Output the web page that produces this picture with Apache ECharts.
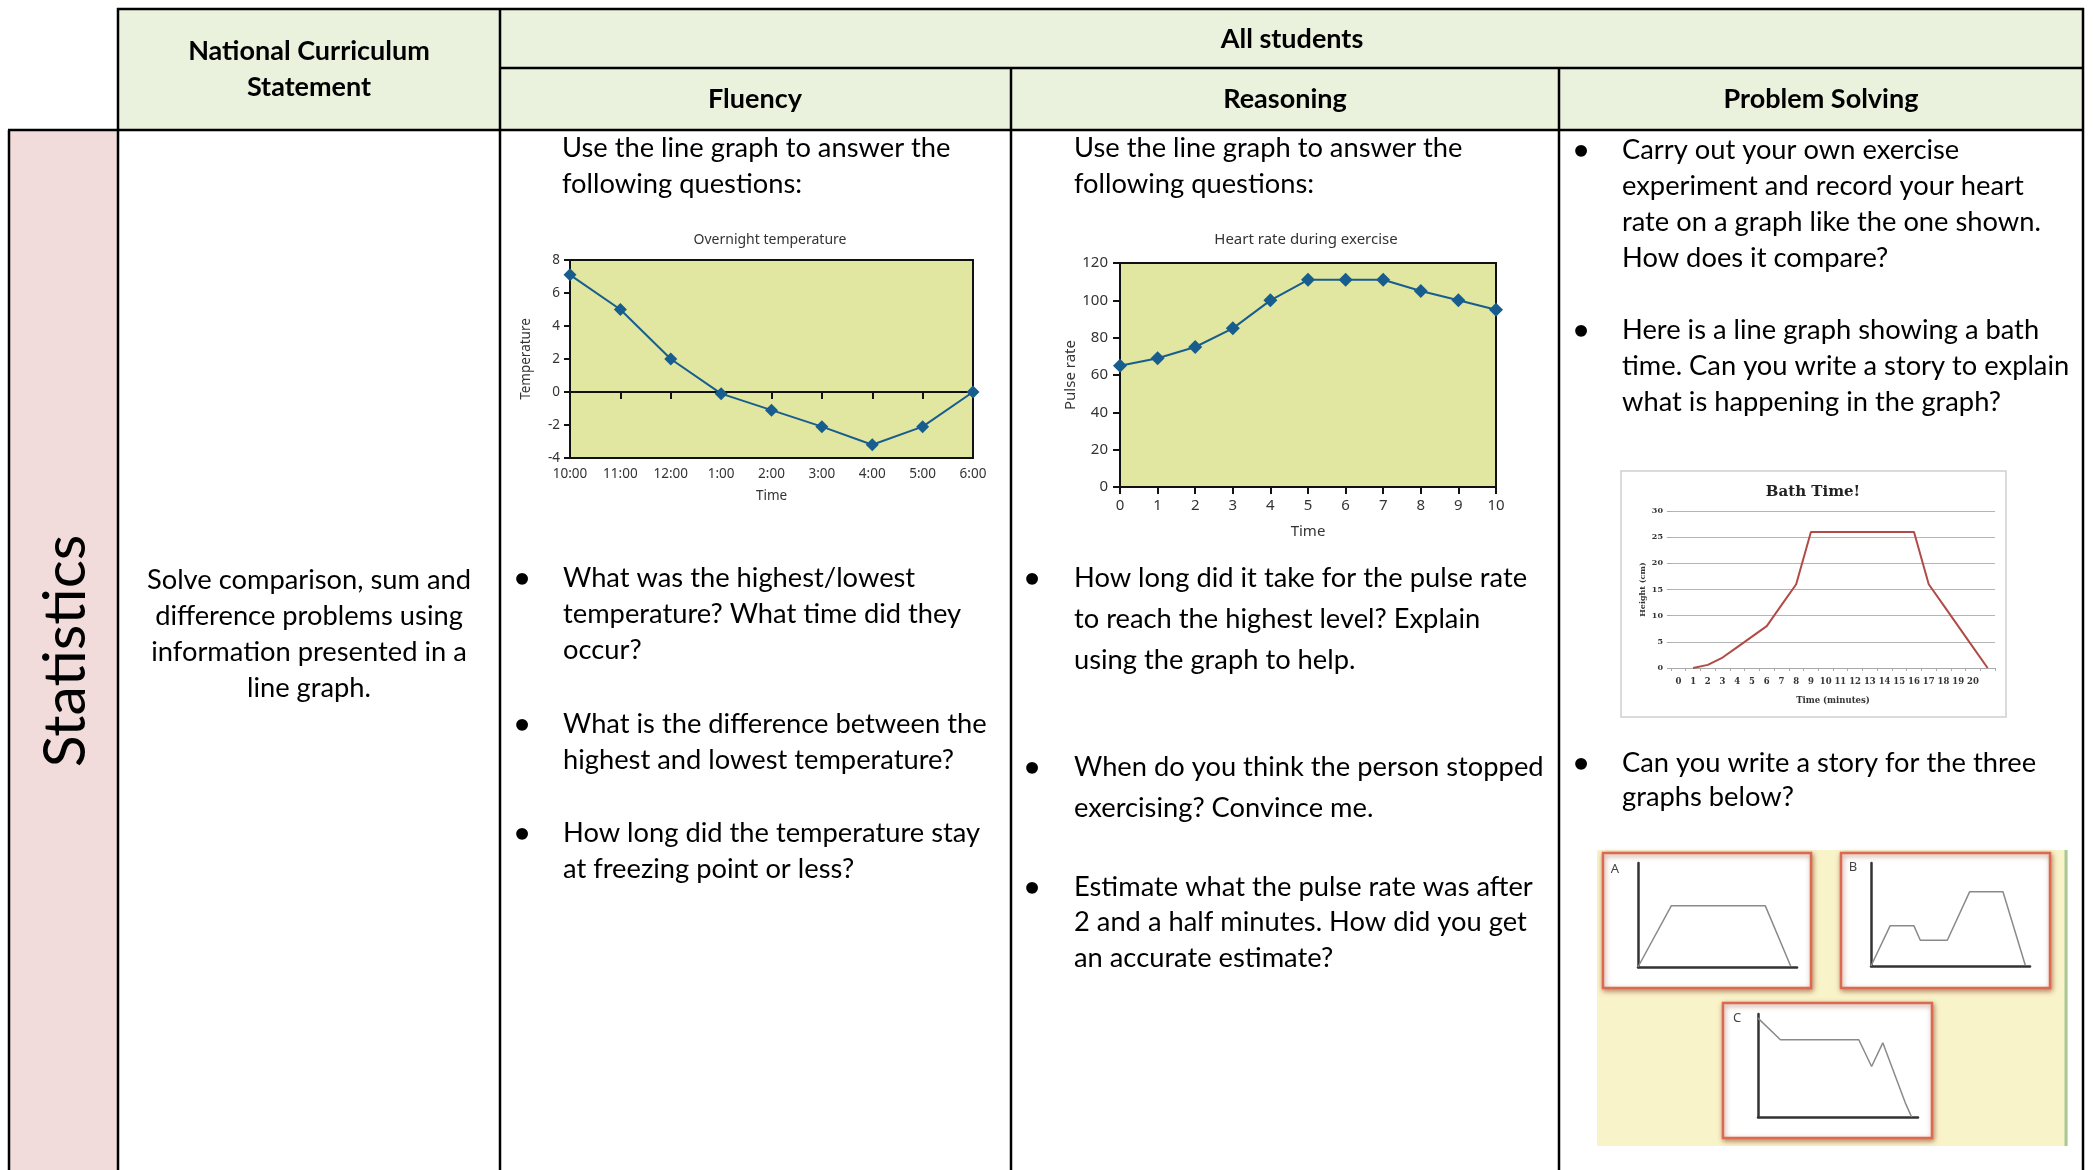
<!DOCTYPE html>
<html><head><meta charset="utf-8">
<script src="https://cdn.jsdelivr.net/npm/echarts@6/dist/echarts.min.js"></script>
<style>html,body{margin:0;padding:0;background:#fff}#c{width:2094px;height:1170px}</style>
</head><body><div id="c"></div>
<script>
// ---- data ----
const tempTimes = ['10:00','11:00','12:00','1:00','2:00','3:00','4:00','5:00','6:00'];
const tempValues = [7.1, 5, 2, -0.1, -1.1, -2.1, -3.2, -2.1, 0];
const heartMinutes = ['0','1','2','3','4','5','6','7','8','9','10'];
const heartValues = [65, 69, 75, 85, 100, 111, 111, 111, 105, 100, 95];
const bathMinutes = ['0','1','2','3','4','5','6','7','8','9','10','11','12','13','14','15','16','17','18','19','20',''];
const bathHeights = [null, 0, 0.6, 2, 4, 6, 8, 12, 16, 26, 26, 26, 26, 26, 26, 26, 26, 16, 12, 8, 4, 0];
const sketchA = [[0,0],[0.21,0.59],[0.8,0.59],[0.96,0.01]];
const sketchB = [[0,0],[0.12,0.39],[0.27,0.39],[0.31,0.25],[0.48,0.25],[0.62,0.72],[0.83,0.72],[0.97,0.01]];
const sketchC = [[0,0.96],[0.14,0.75],[0.63,0.75],[0.71,0.49],[0.78,0.72],[0.92,0.14],[0.96,0]];

// ---- texts ----
const headers = [['National Curriculum',309,51],['Statement',309,87],['All students',1292,39],['Fluency',755,99],['Reasoning',1285,99],['Problem Solving',1821,99]];
const ncLines = [['Solve comparison, sum and',580],['difference problems using',616],['information presented in a',652],['line graph.',688]];
const introLines = ['Use the line graph to answer the','following questions:'];
const fluencyBullets = [[578,['What was the highest/lowest','temperature? What time did they','occur?']],[724,['What is the difference between the','highest and lowest temperature?']],[833,['How long did the temperature stay','at freezing point or less?']]];
const reasoningBullets = [[578,['How long did it take for the pulse rate','to reach the highest level? Explain','using the graph to help.'],41],[767,['When do you think the person stopped','exercising? Convince me.'],41],[887,['Estimate what the pulse rate was after','2 and a half minutes. How did you get','an accurate estimate?'],35.5]];
const psBullets = [[150,['Carry out your own exercise','experiment and record your heart','rate on a graph like the one shown.','How does it compare?']],[330,['Here is a line graph showing a bath','time. Can you write a story to explain','what is happening in the graph?']],[763,['Can you write a story for the three','graphs below?'],34]];

const BODY = '27.3px Lato';
const HEAD = 'bold 27px Lato';
const g = [];
function txt(x, y, s, font, align, extra) {
  const o = {type:'text', x:x, y:y, z:30, style:{text:s, font:font, fill:'#000', align:align||'left', verticalAlign:'middle', textAlign:align||'left', textVerticalAlign:'middle'}};
  if (extra) Object.assign(o.style, extra);
  return o;
}
function rect(x,y,w,h,style,z){ return {type:'rect', z:z||0, shape:{x:x,y:y,width:w,height:h}, style:style}; }
function line(x1,y1,x2,y2,style,z){ return {type:'line', z:z||40, shape:{x1:x1,y1:y1,x2:x2,y2:y2}, style:style}; }

// fills
g.push(rect(118,9,1965,121,{fill:'#eaf1dd'}));
g.push(rect(9,130,109,1040,{fill:'#f2dcdb'}));
// ABC picture area
g.push(rect(1597,850,471,296,{fill:'#f9f3ca'},1));
g.push(line(2066,850,2066,1146,{stroke:'#a9c994',lineWidth:3},2));
[[1603,853,208,135],[1841,853,209,135],[1723,1003,209,135]].forEach(function(b){
  g.push(rect(b[0],b[1],b[2],b[3],{fill:'#fff',stroke:'#dc6a50',lineWidth:2.5,shadowBlur:5,shadowOffsetX:1,shadowOffsetY:2,shadowColor:'rgba(140,60,30,0.55)'},2));
});
g.push(txt(1615,869,'A','13px "Noto Sans"','center',{fill:'#444'}));
g.push(txt(1853,867,'B','13px "Noto Sans"','center',{fill:'#444'}));
g.push(txt(1737,1018,'C','13px "Noto Sans"','center',{fill:'#444'}));
// bath picture box
g.push(rect(1621,471,385,246,{fill:'#fff',stroke:'#cfcfcf',lineWidth:1.5},1));
g.push(txt(1813,492,'Bath Time!','bold 15px "DejaVu Serif"','center',{fill:'#222'}));
// chart titles
g.push(txt(770,240,'Overnight temperature','14px "Noto Sans"','center',{fill:'#333'}));
g.push(txt(1306,240,'Heart rate during exercise','15px "Noto Sans"','center',{fill:'#333'}));

// table borders
const B = {stroke:'#000', lineWidth:2.5};
g.push(line(117,9,2084,9,B));
g.push(line(500,68,2084,68,B));
g.push(line(8,130,2084,130,B));
g.push(line(9,130,9,1170,B));
g.push(line(118,8,118,1170,B));
g.push(line(500,8,500,1170,B));
g.push(line(1011,68,1011,1170,B));
g.push(line(1559,68,1559,1170,B));
g.push(line(2083,8,2083,1170,B));

// header texts
headers.forEach(function(h){ g.push(txt(h[1],h[2],h[0],HEAD,'center')); });
// Statistics rotated
g.push({type:'text', x:66, y:651, rotation:Math.PI/2, z:30, style:{text:'Statistics', font:'59px Lato', fill:'#000', align:'center', verticalAlign:'middle', textAlign:'center', textVerticalAlign:'middle'}});
ncLines.forEach(function(l){ g.push(txt(309,l[1],l[0],BODY,'center')); });
introLines.forEach(function(s,i){ g.push(txt(562,148+36*i,s,BODY)); g.push(txt(1074,148+36*i,s,BODY)); });
function bullets(list, bx, tx, step) {
  list.forEach(function(b){
    const st = b[2] || step;
    g.push(txt(bx,b[0],'•','bold 27px Lato','center'));
    b[1].forEach(function(s,i){ g.push(txt(tx,b[0]+st*i,s,BODY)); });
  });
}
bullets(fluencyBullets, 522, 563, 36);
bullets(reasoningBullets, 1032, 1074, 36);
bullets(psBullets, 1581, 1622, 36);

const blue = '#175d8d';
const lab = function(sz){ return {fontFamily:'Noto Sans', fontSize:sz, color:'#333'}; };
const blk = {color:'#111', width:2};
const sk = function(i){ return {gridIndex:i, type:'value', min:0, max:1, z:10, axisLine:{show:true,onZero:false,lineStyle:{color:'#333',width:2.5}}, axisTick:{show:false}, axisLabel:{show:false}, splitLine:{show:false}}; };

const option = {
  animation:false,
  backgroundColor:'#fff',
  graphic:{elements:g},
  grid:[
    {left:570, top:260, width:403, height:198, show:true, backgroundColor:'#e1e6a1', borderColor:'#111', borderWidth:2},
    {left:1120, top:263, width:376, height:224, show:true, backgroundColor:'#e1e6a1', borderColor:'#111', borderWidth:2},
    {left:1671, top:511, width:324, height:157},
    {left:1638, top:863, width:159, height:104},
    {left:1871, top:863, width:159, height:103},
    {left:1758, top:1014, width:160, height:103}
  ],
  xAxis:[
    {gridIndex:0, type:'category', data:tempTimes, boundaryGap:false, position:'top', axisLine:{onZero:true, lineStyle:blk}, axisTick:{show:true, inside:true, length:7, lineStyle:blk}, axisLabel:{show:false}, splitLine:{show:false}},
    {gridIndex:0, type:'category', data:tempTimes, boundaryGap:false, position:'bottom', axisLine:{show:false, onZero:false}, axisTick:{show:false}, axisLabel:Object.assign({margin:9, interval:0}, lab(13.5)), name:'Time', nameLocation:'middle', nameGap:31, nameTextStyle:lab(13.5)},
    {gridIndex:1, type:'category', data:heartMinutes, boundaryGap:false, axisLine:{onZero:false, lineStyle:blk}, axisTick:{show:true, length:7, lineStyle:blk}, axisLabel:Object.assign({margin:11, interval:0}, lab(15)), name:'Time', nameLocation:'middle', nameGap:37, nameTextStyle:lab(15)},
    {gridIndex:2, type:'category', data:bathMinutes, z:10, axisLine:{onZero:false, lineStyle:{color:'#aaa', width:1}}, axisTick:{show:true, length:3, lineStyle:{color:'#aaa'}}, axisLabel:{interval:0, margin:9, fontFamily:'DejaVu Serif', fontWeight:'bold', fontSize:8.5, color:'#333'}, name:'Time (minutes)', nameLocation:'middle', nameGap:28, nameTextStyle:{fontFamily:'DejaVu Serif', fontWeight:'bold', fontSize:8.5, color:'#333'}},
    sk(3), sk(4), sk(5)
  ],
  yAxis:[
    {gridIndex:0, type:'value', min:-4, max:8, interval:2, axisLine:{show:true, onZero:false, lineStyle:blk}, axisTick:{show:true, length:6, lineStyle:blk}, axisLabel:Object.assign({margin:10}, lab(13.5)), splitLine:{show:false}, name:'Temperature', nameLocation:'middle', nameGap:37, nameTextStyle:lab(13.5)},
    {gridIndex:1, type:'value', min:0, max:120, interval:20, axisLine:{show:true, onZero:false, lineStyle:blk}, axisTick:{show:true, length:7, lineStyle:blk}, axisLabel:Object.assign({margin:12}, lab(15)), splitLine:{show:false}, name:'Pulse rate', nameLocation:'middle', nameGap:42, nameTextStyle:lab(15)},
    {gridIndex:2, type:'value', min:0, max:30, interval:5, z:10, axisLine:{show:false}, axisTick:{show:true, length:4, lineStyle:{color:'#aaa'}}, axisLabel:{margin:8, fontFamily:'DejaVu Serif', fontWeight:'bold', fontSize:8, color:'#333'}, splitLine:{show:true, lineStyle:{color:'#b5b5b5', width:1.2}}, name:'Height (cm)', nameLocation:'middle', nameGap:24, nameTextStyle:{fontFamily:'DejaVu Serif', fontWeight:'bold', fontSize:8, color:'#333'}},
    sk(3), sk(4), sk(5)
  ],
  series:[
    {type:'line', xAxisIndex:0, yAxisIndex:0, data:tempValues, symbol:'diamond', symbolSize:13, lineStyle:{color:blue, width:2}, itemStyle:{color:blue}, z:20},
    {type:'line', xAxisIndex:2, yAxisIndex:1, data:heartValues, symbol:'diamond', symbolSize:14, lineStyle:{color:blue, width:2}, itemStyle:{color:blue}, z:20},
    {type:'line', xAxisIndex:3, yAxisIndex:2, data:bathHeights, symbol:'none', lineStyle:{color:'#b04b47', width:2}, z:20},
    {type:'line', xAxisIndex:4, yAxisIndex:3, data:sketchA, symbol:'none', lineStyle:{color:'#8a8a8a', width:1.5}, z:20},
    {type:'line', xAxisIndex:5, yAxisIndex:4, data:sketchB, symbol:'none', lineStyle:{color:'#8a8a8a', width:1.5}, z:20},
    {type:'line', xAxisIndex:6, yAxisIndex:5, data:sketchC, symbol:'none', lineStyle:{color:'#8a8a8a', width:1.5}, z:20}
  ]
};
const chart = echarts.init(document.getElementById('c'), null, {renderer:'canvas'});
chart.setOption(option);
</script></body></html>
